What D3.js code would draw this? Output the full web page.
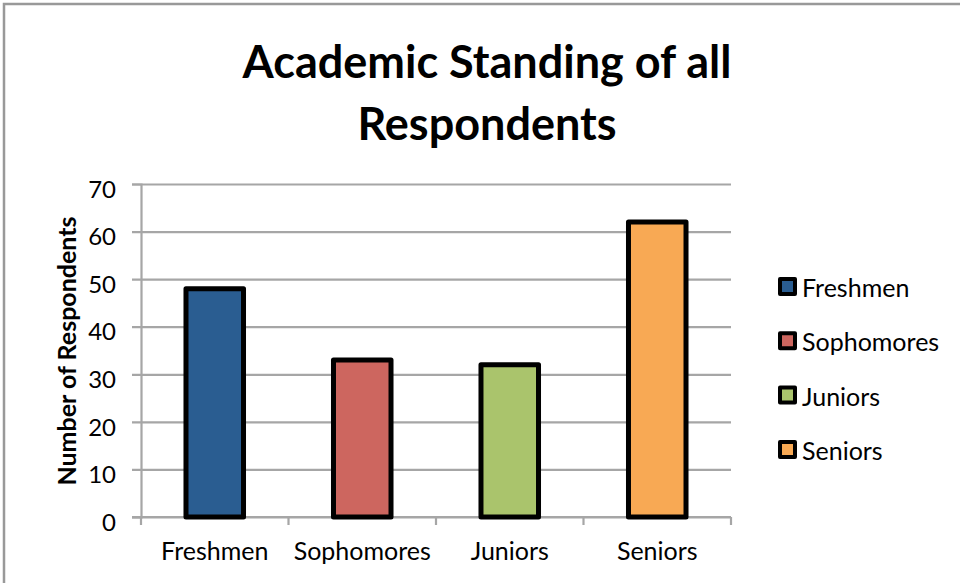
<!DOCTYPE html>
<html>
<head>
<meta charset="utf-8">
<script src="https://cdnjs.cloudflare.com/ajax/libs/d3/7.8.5/d3.min.js"></script>
<style>
	body { margin:0; background:#fff; }
	svg text { font-family: Lato, "Open Sans", sans-serif; fill:#000; }
</style>
</head>
<body>
<div id="content"></div>
<script>
// data
var categories = ['Freshmen', 'Sophomores', 'Juniors', 'Seniors'];
var respondents = [48, 33, 32, 62];
var colors = ['#2a5d91', '#cd665f', '#aac46c', '#f8a954'];
var yTicks = [0, 10, 20, 30, 40, 50, 60, 70];
var titleLines = ['Academic Standing of all', 'Respondents'];
var yTitle = 'Number of Respondents';

var init = init();
var axis = drawAxis(init);
drawBars(init, axis);
drawLegend(init);
drawTitles(init);

function init(){
	var width = 960;
	var height = 583;
	var svg = d3.select('#content').append('svg')
		.attr('width', width)
		.attr('height', height);

	// outer chart frame (runs off the right/bottom edge)
	svg.append('rect')
		.attr('x', 4).attr('y', 4)
		.attr('width', 1000).attr('height', 700)
		.attr('fill', 'none')
		.attr('stroke', '#999')
		.attr('stroke-width', 2.5);

	return {
		svg : svg,
		width : width,
		height : height,
		left : 141,
		right : 731,
		top : 184,
		bottom : 517
	}
}

function drawAxis(init){
	var svg = init.svg;
	var x = d3.scaleBand().domain(categories).range([init.left, init.right]).padding(0);
	var y = d3.scaleLinear().domain([0, 70]).range([init.bottom, init.top]);

	// gridlines + y ticks
	var yAxis = d3.axisLeft(y).tickValues(yTicks).tickSize(9).tickPadding(16);
	var gy = svg.append('g').attr('transform', 'translate(' + init.left + ',0)').call(yAxis);
	gy.select('.domain').attr('stroke', '#a6a6a6').attr('stroke-width', 2.2);
	gy.selectAll('.tick line').attr('stroke', '#a6a6a6').attr('stroke-width', 2.2)
		.attr('x2', init.right - init.left).attr('x1', -9);
	gy.selectAll('.tick text').attr('font-size', 24).attr('dy', '0.55em')
		.style('font-family', 'Lato, sans-serif');

	// x axis line, boundary ticks, labels
	var gx = svg.append('g');
	gx.append('line')
		.attr('x1', init.left - 9).attr('x2', init.right)
		.attr('y1', init.bottom).attr('y2', init.bottom)
		.attr('stroke', '#a6a6a6').attr('stroke-width', 2.2);
	var edges = categories.map(function(c){ return x(c); }).concat([init.right]);
	gx.selectAll('.xtick').data(edges).enter().append('line')
		.attr('class', 'xtick')
		.attr('x1', function(d){ return d; }).attr('x2', function(d){ return d; })
		.attr('y1', init.bottom).attr('y2', init.bottom + 8)
		.attr('stroke', '#a6a6a6').attr('stroke-width', 2.2);
	gx.selectAll('.xlabel').data(categories).enter().append('text')
		.attr('class', 'xlabel')
		.attr('x', function(d){ return x(d) + x.bandwidth()/2; })
		.attr('y', 560)
		.attr('text-anchor', 'middle')
		.attr('font-size', 25)
		.text(function(d){ return d; });

	return { x : x, y : y }
}

function drawBars(init, axis){
	var x = axis.x, y = axis.y;
	var bw = x.bandwidth()*0.39;
	init.svg.append('g').selectAll('rect').data(respondents).enter().append('rect')
		.attr('x', function(d, i){ return x(categories[i]) + (x.bandwidth() - bw)/2; })
		.attr('y', function(d){ return y(d); })
		.attr('width', bw)
		.attr('height', function(d){ return y(0) - y(d); })
		.attr('fill', function(d, i){ return colors[i]; })
		.attr('stroke', '#000')
		.attr('stroke-width', 5)
		.attr('stroke-linejoin', 'round');
}

function drawLegend(init){
	var g = init.svg.append('g').attr('transform', 'translate(780,279)');
	var rows = g.selectAll('g').data(categories).enter().append('g')
		.attr('transform', function(d, i){ return 'translate(0,' + (i*54.3) + ')'; });
	rows.append('rect')
		.attr('width', 15).attr('height', 15)
		.attr('fill', function(d, i){ return colors[i]; })
		.attr('stroke', '#000').attr('stroke-width', 4)
		.attr('stroke-linejoin', 'round');
	rows.append('text')
		.attr('x', 22).attr('y', 18)
		.attr('font-size', 25)
		.text(function(d){ return d; });
}

function drawTitles(init){
	init.svg.selectAll('.title').data(titleLines).enter().append('text')
		.attr('class', 'title')
		.attr('x', 487)
		.attr('y', function(d, i){ return 78 + i*62; })
		.attr('text-anchor', 'middle')
		.attr('font-size', 45)
		.attr('font-weight', 'bold')
		.text(function(d){ return d; });

	init.svg.append('text')
		.attr('transform', 'translate(76,351) rotate(-90)')
		.attr('text-anchor', 'middle')
		.attr('font-size', 25)
		.attr('font-weight', 'bold')
		.text(yTitle);
}
</script>
</body>
</html>
